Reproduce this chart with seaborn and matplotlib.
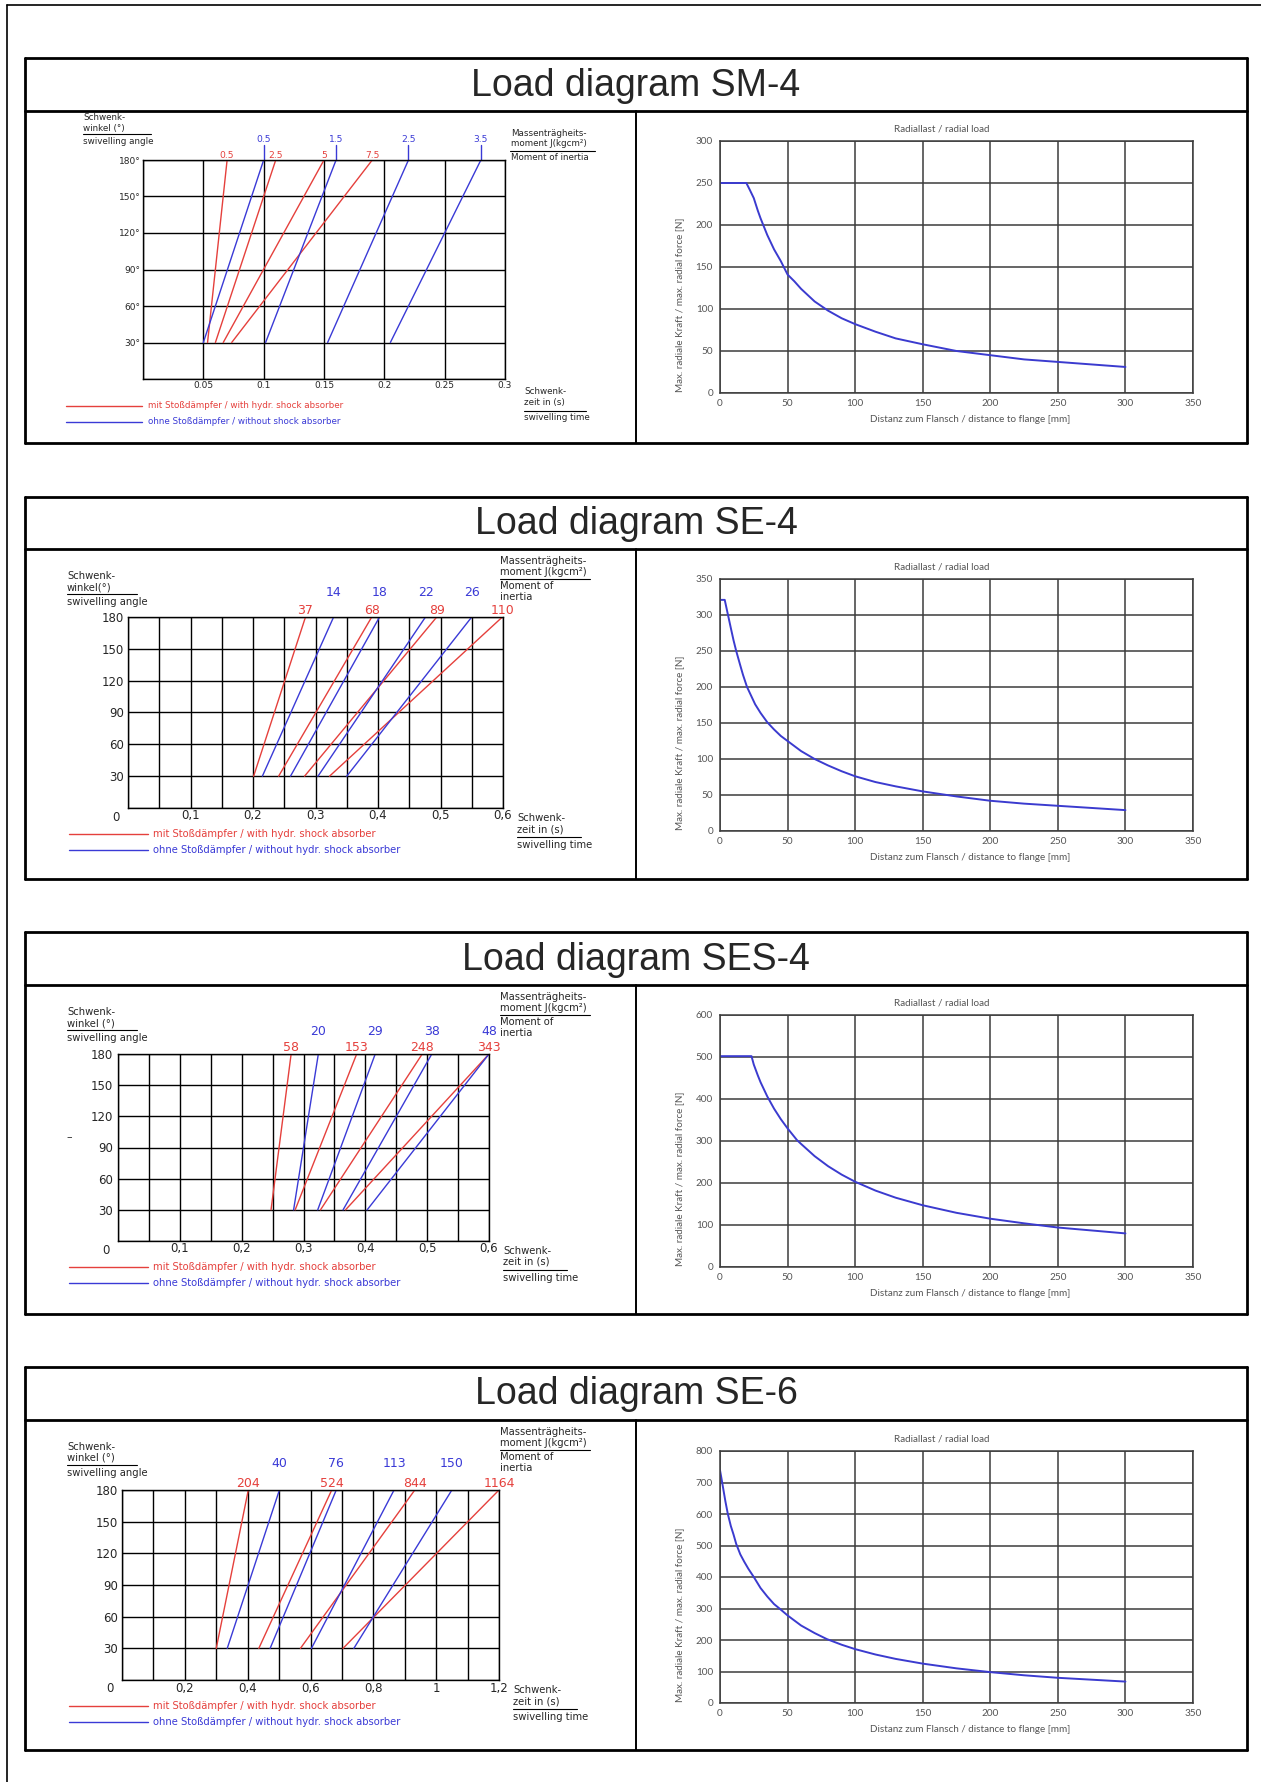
import numpy as np
import pandas as pd
import matplotlib
matplotlib.use('Agg')
import matplotlib.pyplot as plt
import seaborn as sns
from matplotlib.lines import Line2D

# ---------------- data ----------------
# swivelling time [s] at 30 deg and at 180 deg for each moment of inertia J [kgcm2]
angles = [30, 180]

sm4_red_j = ['0.5', '2.5', '5', '7.5']
sm4_red_t30 = [0.0535, 0.060, 0.0665, 0.0735]
sm4_red_t180 = [0.0697, 0.110, 0.150, 0.190]
sm4_blue_j = ['0.5', '1.5', '2.5', '3.5']
sm4_blue_t30 = [0.050, 0.1016, 0.153, 0.205]
sm4_blue_t180 = [0.100, 0.160, 0.220, 0.280]

se4_red_j = ['37', '68', '89', '110']
se4_red_t30 = [0.201, 0.241, 0.2825, 0.3225]
se4_red_t180 = [0.284, 0.390, 0.494, 0.599]
se4_blue_j = ['14', '18', '22', '26']
se4_blue_t30 = [0.215, 0.260, 0.304, 0.350]
se4_blue_t180 = [0.329, 0.4025, 0.476, 0.550]

ses4_red_j = ['58', '153', '248', '343']
ses4_red_t30 = [0.2475, 0.2865, 0.3275, 0.368]
ses4_red_t180 = [0.280, 0.386, 0.492, 0.600]
ses4_blue_j = ['20', '29', '38', '48']
ses4_blue_t30 = [0.284, 0.323, 0.364, 0.403]
ses4_blue_t180 = [0.324, 0.416, 0.5075, 0.600]

se6_red_j = ['204', '524', '844', '1164']
se6_red_t30 = [0.300, 0.4355, 0.568, 0.7035]
se6_red_t180 = [0.402, 0.6675, 0.932, 1.200]
se6_blue_j = ['40', '76', '113', '150']
se6_blue_t30 = [0.335, 0.4715, 0.603, 0.738]
se6_blue_t180 = [0.501, 0.682, 0.866, 1.050]

# tick labels of the swivel diagrams
sm4_xtick_vals = [0.05, 0.1, 0.15, 0.2, 0.25, 0.3]
sm4_xtick_text = ['0.05', '0.1', '0.15', '0.2', '0.25', '0.3']
se_xtick_vals = [0.1, 0.2, 0.3, 0.4, 0.5, 0.6]
se_xtick_text = ['0,1', '0,2', '0,3', '0,4', '0,5', '0,6']
se6_xtick_vals = [0.2, 0.4, 0.6, 0.8, 1.0, 1.2]
se6_xtick_text = ['0,2', '0,4', '0,6', '0,8', '1', '1,2']
deg_ytick_text = ['30°', '60°', '90°', '120°', '150°', '180°']
ytick_text = ['30', '60', '90', '120', '150', '180']

# radial load: distance to flange [mm] vs max radial force [N]
sm4_dist = [0, 10, 19.5, 22, 25, 28, 30, 35, 40, 45, 50, 55, 60, 70, 80, 90, 100,
            115, 130, 150, 175, 200, 225, 250, 275, 300]
sm4_force = [250, 250, 250, 242, 232, 217, 208, 188, 171, 157, 141, 133, 124, 109, 98, 89, 82,
             73, 65, 58, 50, 45, 40, 37, 34, 31]

se4_dist = [0, 3.5, 5, 8, 10, 12, 15, 17, 20, 23, 26, 30, 35, 40, 45, 50, 60, 70, 80, 90, 100,
            115, 130, 150, 175, 200, 225, 250, 275, 300]
se4_force = [321, 321, 308, 282, 265, 250, 230, 217, 200, 188, 176, 164, 151, 141, 132, 125, 111,
             100, 91, 83, 76, 68, 62, 55, 48, 42, 38, 35, 32, 29]

ses4_dist = [0, 10, 23.3, 25, 28, 30, 35, 40, 45, 50, 57, 60, 70, 80, 90, 100, 115, 130, 150,
             175, 200, 225, 250, 275, 300]
ses4_force = [502, 502, 502, 482, 456, 440, 406, 377, 352, 330, 302, 293, 264, 240, 220, 203, 182,
              165, 147, 129, 115, 104, 94, 87, 80]

se6_dist = [0, 1, 2, 3, 4, 5.8, 8, 10, 12, 15, 18, 21, 25, 30, 35, 40, 44, 50, 60, 70, 79, 90,
            100, 115, 130, 150, 175, 200, 225, 250, 275, 300]
se6_force = [739, 715, 690, 665, 640, 600, 562, 535, 505, 472, 448, 426, 400, 365, 338, 314, 300,
             278, 246, 222, 203, 185, 171, 154, 140, 125, 110, 98, 88, 80, 74, 68]

# ---------------- styling ----------------
W, H = 1261, 1782
RED = '#e5403c'
BLUE = '#3a3ad6'
CURVE = '#3b3bcf'
GRID = '#3c3c3c'
GRAYTXT = '#555555'
CAD = ['DejaVu Sans']
SANS = ['Lato', 'DejaVu Sans']

sns.set_theme(style='white')
plt.rcParams['font.family'] = ['DejaVu Sans']

fig = plt.figure(figsize=(W / 100, H / 100), dpi=100)


def fx(x):
    return x / W


def fy(y):
    return 1 - y / H


def ftext(x, y, s, **kw):
    kw.setdefault('va', 'center')
    kw.setdefault('ha', 'left')
    kw.setdefault('family', CAD)
    fig.text(fx(x), fy(y), s, **kw)


def fline(x0, y0, x1, y1, **kw):
    kw.setdefault('color', 'black')
    kw.setdefault('lw', 0.8)
    fig.add_artist(Line2D([fx(x0), fx(x1)], [fy(y0), fy(y1)], transform=fig.transFigure, **kw))


def add_ax(rect):
    l, t, r, b = rect
    return fig.add_axes([fx(l), fy(b), (r - l) / W, (b - t) / H])


def swivel_frame(red_j, red_t30, red_t180, blue_j, blue_t30, blue_t180):
    rows = []
    for kind, js, t30, t180 in [('red', red_j, red_t30, red_t180), ('blue', blue_j, blue_t30, blue_t180)]:
        for j, a, b in zip(js, t30, t180):
            rows.append({'kind': kind, 'line': kind + j, 't': a, 'angle': angles[0]})
            rows.append({'kind': kind, 'line': kind + j, 't': b, 'angle': angles[1]})
    return pd.DataFrame(rows)


def draw_swivel(ax, series, xmax, xstep, tick_vals, tick_text, ylabels, fs_tick, fs_j,
                red_off, blue_off, xpad, ypad, stems=0):
    red_j, red_t30, red_t180, blue_j, blue_t30, blue_t180 = series
    df = swivel_frame(*series)
    sns.lineplot(data=df, x='t', y='angle', hue='kind', units='line', estimator=None,
                 palette={'red': RED, 'blue': BLUE}, legend=False, sort=False, lw=1.0, ax=ax)
    grid = np.round(np.arange(0, xmax + 1e-9, xstep), 4)
    lab = {round(v, 4): s for v, s in zip(tick_vals, tick_text)}
    ax.set_xticks(grid, labels=[lab.get(round(g, 4), '') for g in grid])
    ax.set_yticks([0, 30, 60, 90, 120, 150, 180], labels=[''] + ylabels)
    ax.set_xlim(0, xmax)
    ax.set_ylim(0, 180)
    ax.set_xlabel('')
    ax.set_ylabel('')
    ax.grid(True, color='black', lw=1.0)
    for s in ax.spines.values():
        s.set_visible(True)
        s.set_color('black')
        s.set_linewidth(1.0)
    ax.tick_params(axis='x', length=0, pad=xpad, labelsize=fs_tick)
    ax.tick_params(axis='y', length=0, pad=ypad, labelsize=fs_tick)
    for j, t in zip(red_j, red_t180):
        ax.annotate(j, (t, 180), xytext=(0, red_off), textcoords='offset points', ha='center',
                    va='center', color=RED, fontsize=fs_j, annotation_clip=False)
    for j, t in zip(blue_j, blue_t180):
        ax.annotate(j, (t, 180), xytext=(0, blue_off), textcoords='offset points', ha='center',
                    va='center', color=BLUE, fontsize=fs_j, annotation_clip=False)
        if stems:
            ax.plot([t, t], [180, 180 + stems], color=BLUE, lw=1.0, clip_on=False)


def draw_radial(ax, rect, dist, force, ymax, ystep):
    l, t, r, b = rect
    sns.lineplot(x=dist, y=force, ax=ax, color=CURVE, lw=1.4, estimator=None, sort=False)
    ax.set_xlim(0, 350)
    ax.set_ylim(0, ymax)
    ax.set_xticks(np.arange(0, 351, 50))
    ax.set_yticks(np.arange(0, ymax + 1, ystep))
    ax.grid(True, color=GRID, lw=1.1)
    for s in ax.spines.values():
        s.set_visible(True)
        s.set_color(GRID)
        s.set_linewidth(1.1)
    ax.tick_params(axis='x', length=0, pad=4.5, labelsize=7.2, labelcolor=GRAYTXT)
    ax.tick_params(axis='y', length=0, pad=5, labelsize=7.2, labelcolor=GRAYTXT)
    for lbl in ax.get_xticklabels() + ax.get_yticklabels():
        lbl.set_family(SANS)
    ax.set_xlabel('Distanz zum Flansch / distance to flange [mm]', fontsize=7.1, color=GRAYTXT, family=SANS)
    ax.set_ylabel('Max. radiale Kraft / max. radial force [N]', fontsize=7.1, color=GRAYTXT, family=SANS)
    ax.xaxis.set_label_coords(0.5 + 14 / (r - l), -22 / (b - t))
    ax.yaxis.set_label_coords(-36 / (r - l), 0.35)
    ftext(942, t - 12, 'Radiallast / radial load', ha='center', fontsize=7.1, color=GRAYTXT, family=SANS)


panels = [
    dict(title='Load diagram SM-4', box=(25, 58, 1247, 443), tb=111,
         swivel=(143, 160, 505, 379), radial=(720, 141, 1193, 393)),
    dict(title='Load diagram SE-4', box=(25, 497, 1247, 879), tb=549,
         swivel=(128, 617, 503, 808), radial=(720, 579, 1193, 831)),
    dict(title='Load diagram SES-4', box=(25, 932, 1247, 1314), tb=985,
         swivel=(118, 1054, 489, 1241), radial=(720, 1015, 1193, 1267)),
    dict(title='Load diagram SE-6', box=(25, 1367, 1247, 1750), tb=1420,
         swivel=(122, 1490, 499, 1680), radial=(720, 1451, 1193, 1703)),
]

# outer frame (left and top edges visible)
fline(7, 5, 7, H, lw=1.2)
fline(7, 5, W, 5, lw=1.2)

for p in panels:
    l, t, r, b = p['box']
    tb = p['tb']
    for x0, y0, x1, y1 in [(l, t, r, t), (l, b, r, b), (l, t, l, b), (r, t, r, b), (l, tb, r, tb)]:
        fline(x0, y0, x1, y1, lw=2.0)
    fline(636, tb, 636, b, lw=1.4)
    ftext(636, (t + tb) / 2 + 1, p['title'], ha='center', fontsize=27, family=['Liberation Sans'])

# ---------------- SM-4 ----------------
p = panels[0]
ax = add_ax(p['swivel'])
draw_swivel(ax, (sm4_red_j, sm4_red_t30, sm4_red_t180, sm4_blue_j, sm4_blue_t30, sm4_blue_t180),
            0.3, 0.05, sm4_xtick_vals, sm4_xtick_text, deg_ytick_text, 6.5, 6.6,
            red_off=3.6, blue_off=14.5, xpad=1.8, ypad=2, stems=12)
fs = 6.3
ftext(83, 118, 'Schwenk-', fontsize=fs)
ftext(83, 128, 'winkel (°)', fontsize=fs)
fline(83, 134, 151, 134)
ftext(83, 142, 'swivelling angle', fontsize=fs)
ftext(511, 133, 'Massenträgheits-', fontsize=fs)
ftext(511, 144, 'moment J(kgcm²)', fontsize=fs)
fline(510, 151, 595, 151)
ftext(511, 158, 'Moment of inertia', fontsize=fs)
ftext(524, 392, 'Schwenk-', fontsize=fs)
ftext(524, 403, 'zeit in (s)', fontsize=fs)
fline(524, 411, 586, 411)
ftext(524, 418, 'swivelling time', fontsize=fs)
fline(66, 406, 142, 406, color=RED, lw=1.0)
ftext(148, 406, 'mit Stoßdämpfer / with hydr. shock absorber', fontsize=fs, color=RED)
fline(66, 422, 142, 422, color=BLUE, lw=1.0)
ftext(148, 422, 'ohne Stoßdämpfer / without shock absorber', fontsize=fs, color=BLUE)
draw_radial(add_ax(p['radial']), p['radial'], sm4_dist, sm4_force, 300, 50)


# ---------------- SE-4 / SES-4 / SE-6 ----------------
def left_texts(p, winkel):
    fs = 7.2
    tb = p['tb']
    l, t, r, b = p['swivel']
    ftext(67, tb + 27, 'Schwenk-', fontsize=fs)
    ftext(67, tb + 38, winkel, fontsize=fs)
    fline(67, tb + 45, 137, tb + 45)
    ftext(67, tb + 53, 'swivelling angle', fontsize=fs)
    ftext(500, tb + 12, 'Massenträgheits-', fontsize=fs)
    ftext(500, tb + 23, 'moment J(kgcm²)', fontsize=fs)
    fline(500, tb + 30, 590, tb + 30)
    ftext(500, tb + 37, 'Moment of', fontsize=fs)
    ftext(500, tb + 48, 'inertia', fontsize=fs)
    ftext(r + 14, b + 10, 'Schwenk-', fontsize=fs)
    ftext(r + 14, b + 21, 'zeit in (s)', fontsize=fs)
    fline(r + 14, b + 29, r + 78, b + 29)
    ftext(r + 14, b + 37, 'swivelling time', fontsize=fs)
    fline(69, b + 26, 148, b + 26, color=RED, lw=1.0)
    ftext(153, b + 26, 'mit Stoßdämpfer / with hydr. shock absorber', fontsize=fs, color=RED)
    fline(69, b + 42, 148, b + 42, color=BLUE, lw=1.0)
    ftext(153, b + 42, 'ohne Stoßdämpfer / without hydr. shock absorber', fontsize=fs, color=BLUE)
    ftext(l - 12, b + 9, '0', ha='center', fontsize=8.5)


p = panels[1]
ax = add_ax(p['swivel'])
draw_swivel(ax, (se4_red_j, se4_red_t30, se4_red_t180, se4_blue_j, se4_blue_t30, se4_blue_t180),
            0.6, 0.05, se_xtick_vals, se_xtick_text, ytick_text, 8.5, 9,
            red_off=5, blue_off=17.5, xpad=1, ypad=3)
left_texts(p, 'winkel(°)')
draw_radial(add_ax(p['radial']), p['radial'], se4_dist, se4_force, 350, 50)

p = panels[2]
ax = add_ax(p['swivel'])
draw_swivel(ax, (ses4_red_j, ses4_red_t30, ses4_red_t180, ses4_blue_j, ses4_blue_t30, ses4_blue_t180),
            0.6, 0.05, se_xtick_vals, se_xtick_text, ytick_text, 8.5, 9,
            red_off=4.5, blue_off=16.5, xpad=1, ypad=3.5)
left_texts(p, 'winkel (°)')
ftext(66, 1137, '–', fontsize=8)
draw_radial(add_ax(p['radial']), p['radial'], ses4_dist, ses4_force, 600, 100)

p = panels[3]
ax = add_ax(p['swivel'])
draw_swivel(ax, (se6_red_j, se6_red_t30, se6_red_t180, se6_blue_j, se6_blue_t30, se6_blue_t180),
            1.2, 0.1, se6_xtick_vals, se6_xtick_text, ytick_text, 8.5, 9,
            red_off=5, blue_off=19, xpad=1.5, ypad=3)
left_texts(p, 'winkel (°)')
draw_radial(add_ax(p['radial']), p['radial'], se6_dist, se6_force, 800, 100)

fig.savefig('out.png', dpi=100)
